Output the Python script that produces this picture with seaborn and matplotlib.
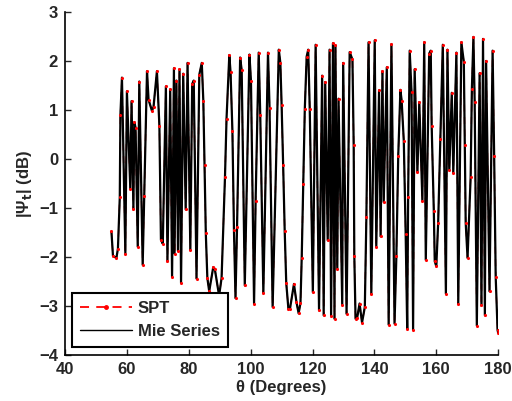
import matplotlib
matplotlib.use("Agg")
import matplotlib.pyplot as plt
import seaborn as sns
import pandas as pd
from matplotlib.lines import Line2D

# Scattering angle (degrees) of the sampled points
theta = [55.0, 55.5, 56.6, 57.1, 57.7, 57.9, 58.4, 59.5, 60.0, 61.1,
         61.5, 62.1, 62.4, 62.8, 63.5, 64.0, 65.1, 65.6, 66.5, 67.0,
         68.1, 68.6, 69.7, 70.5, 71.0, 71.6, 72.6, 73.1, 74.0, 74.6,
         75.2, 75.4, 76.0, 76.5, 77.0, 77.5, 78.2, 79.0, 79.6, 80.5,
         81.1, 81.6, 82.5, 83.4, 84.2, 84.7, 85.1, 85.5, 86.0, 86.6,
         87.9, 88.4, 89.8, 90.6, 91.7, 92.2, 93.1, 93.5, 94.1, 94.6,
         95.1, 95.6, 96.6, 97.1, 98.1, 99.6, 100.1, 101.1, 101.6, 102.6,
         103.1, 104.1, 105.6, 106.1, 107.1, 109.1, 109.6, 110.0, 110.5, 111.0,
         111.5, 112.2, 112.7, 114.0, 114.8, 115.5, 116.1, 116.5, 117.0, 117.5,
         118.1, 118.6, 119.1, 120.1, 121.0, 122.1, 123.1, 123.6, 124.1, 124.9,
         125.5, 126.0, 126.6, 127.1, 127.4, 128.0, 128.4, 129.6, 129.9, 131.0,
         132.0, 132.9, 133.3, 133.5, 133.9, 134.4, 135.2, 136.0, 136.9, 137.4,
         138.1, 139.0, 140.1, 140.6, 141.5, 142.0, 142.6, 143.0, 144.0, 144.6,
         145.5, 146.5, 147.1, 147.7, 148.4, 148.8, 149.5, 150.1, 150.6, 150.9,
         151.4, 152.0, 152.5, 153.0, 153.9, 154.5, 155.5, 156.1, 156.6, 157.7,
         158.2, 158.5, 159.2, 159.5, 160.0, 160.6, 161.3, 162.1, 163.1, 163.6,
         164.2, 165.0, 165.5, 166.5, 167.1, 168.1, 168.9, 169.2, 169.5, 170.1,
         171.1, 171.5, 172.0, 172.4, 173.1, 174.0, 174.6, 175.1, 175.7, 176.1,
         177.2, 178.2, 178.7, 179.2, 179.8, 180.0]

# |Psi_t| in dB
psi_db = [-1.47, -1.97, -2.01, -1.82, -0.77, 0.90, 1.67, -1.92, 1.39, -0.60,
          1.19, -1.02, 0.76, 0.65, -1.78, 1.59, -2.15, -0.75, 1.80, 1.22,
          0.99, 1.07, 1.80, 0.69, -1.64, -1.72, 1.49, -2.08, 1.43, -2.40,
          1.86, -1.92, 1.61, -1.86, 1.84, -2.52, 1.75, -1.02, 1.97, -1.84,
          1.54, 1.61, -2.43, 1.73, 1.97, 1.20, -0.11, -1.50, -2.42, -2.69,
          -2.20, -2.23, -2.78, -2.42, -0.36, 0.83, 2.13, 1.78, 0.59, -1.43,
          -2.83, -1.38, 2.08, 1.82, -2.57, 2.14, 1.61, -2.94, -0.84, 2.18,
          0.91, -2.73, 2.18, 1.06, -3.01, 2.24, 1.97, 1.12, -0.11, -1.45,
          -2.52, -3.05, -3.05, -2.54, -2.91, -3.14, -2.93, -2.01, -0.50, 1.03,
          2.10, 2.24, 1.02, -2.71, 2.34, -3.08, 1.71, -3.18, 1.58, -1.65,
          2.24, -3.20, 2.37, -3.25, 2.33, -2.23, 1.24, -2.96, 1.97, -3.15,
          2.19, 2.04, 0.29, -1.96, -3.25, -3.24, -2.94, -3.33, -3.01, -1.18,
          2.39, -2.74, 2.43, -1.78, 1.41, -1.57, 1.80, -0.87, 1.88, -3.37,
          2.35, -3.35, -1.96, 0.08, 1.42, 1.20, 0.37, -1.52, -3.46, -0.76,
          2.22, 1.37, -3.48, 1.84, -0.26, 1.17, -0.84, 2.39, -2.05, 2.16,
          2.22, 0.69, -1.06, -2.08, -2.18, -1.30, 0.42, 2.34, -2.74, 2.24,
          -0.22, 1.36, -0.27, 2.18, -2.94, 2.39, 1.99, 0.29, -1.29, -2.01,
          -0.36, 1.44, 2.50, 1.18, -3.39, 1.76, -2.98, 2.46, -3.18, 2.01,
          -2.69, 2.22, 0.08, -2.40, -3.48, -3.54]

x_ticks = [40, 60, 80, 100, 120, 140, 160, 180]
y_ticks = [-4, -3, -2, -1, 0, 1, 2, 3]

df = pd.DataFrame({"theta": theta, "psi": psi_db})

sns.set_style("white")
plt.rcParams["font.family"] = ["Liberation Sans", "DejaVu Sans"]
plt.rcParams["font.weight"] = "bold"
plt.rcParams["mathtext.default"] = "bf"

fig = plt.figure(figsize=(5.12, 4.01), dpi=100)
ax = fig.add_axes([0.127, 0.1135, 0.846, 0.8555])

sns.lineplot(data=df, x="theta", y="psi", ax=ax, estimator=None, sort=False,
             color="red", linestyle=(0, (5, 4)), linewidth=1.0, zorder=2)
sns.lineplot(data=df, x="theta", y="psi", ax=ax, estimator=None, sort=False,
             color="black", linewidth=1.6, zorder=3)
sns.scatterplot(data=df, x="theta", y="psi", ax=ax, color="red", s=5,
                linewidth=0, zorder=4)

ax.set_xlim(40, 180)
ax.set_ylim(-4, 3)
ax.set_xticks(x_ticks)
ax.set_yticks(y_ticks)
ax.tick_params(direction="in", length=4, width=1, labelsize=12,
               top=False, right=False, bottom=True, left=True, pad=5)
for lab in ax.get_xticklabels() + ax.get_yticklabels():
    lab.set_fontweight("bold")
for side in ["top", "right"]:
    ax.spines[side].set_visible(False)
for side in ["left", "bottom"]:
    ax.spines[side].set_linewidth(1.2)
    ax.spines[side].set_color("black")

ax.set_xlabel("θ (Degrees)", fontsize=12, fontweight="bold", labelpad=2)
ax.set_ylabel(r"|Ψ$_{t}$| (dB)", fontsize=12, fontweight="bold", labelpad=4)

handles = [
    Line2D([], [], color="red", linestyle=(0, (5, 4)), linewidth=1.3,
           marker=".", markersize=5),
    Line2D([], [], color="black", linewidth=1.0),
]
leg = ax.legend(handles, ["SPT", "Mie Series"], loc="lower left",
                bbox_to_anchor=(0.016, 0.025), borderaxespad=0,
                frameon=True, fancybox=False,
                framealpha=1, edgecolor="black", prop={"weight": "bold", "size": 12},
                handlelength=3.1, borderpad=0.5, labelspacing=0.45,
                handletextpad=0.35)
leg.get_frame().set_linewidth(1.5)

fig.savefig("out.png", dpi=100)
